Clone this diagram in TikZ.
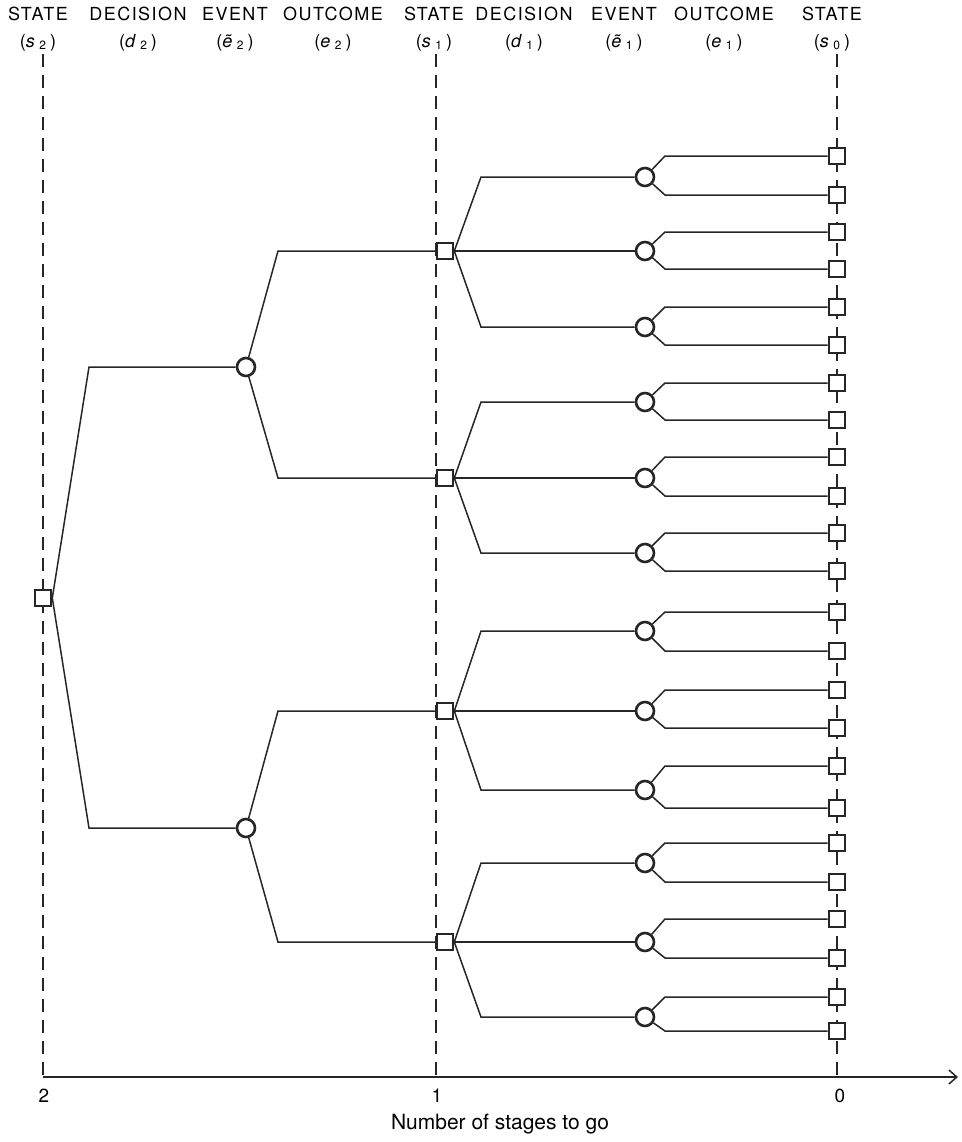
\documentclass[tikz,border=0pt]{standalone}
\usepackage{fontspec}
\setmainfont{TeX Gyre Heros}
\newfontfamily\hdfont[LetterSpace=8]{TeX Gyre Heros}
\usetikzlibrary{arrows.meta}
\begin{document}
\begin{tikzpicture}[x=0.5pt, y=-0.5pt, line width=0.75pt, draw=black!85,
    >={Straight Barb[length=4pt, width=7pt]},
    statebox/.style={draw, line width=1.3pt, fill=white, minimum size=8pt, inner sep=0pt},
    chancenode/.style={draw, circle, line width=1.3pt, fill=white, minimum size=9pt, inner sep=0pt},
    stagehead/.style={font=\hdfont\fontsize{9}{10}\selectfont},
    stageline/.style={dash pattern=on 6.5pt off 4pt}]
    \useasboundingbox (0,0) rectangle (962,1142);
    % column headings
    \foreach \lbl/\xx in {STATE/38, DECISION/138, EVENT/235, OUTCOME/333, STATE/434, DECISION/524, EVENT/624, OUTCOME/724, STATE/832}
        \node[stagehead] (h\xx) at (\xx,14) {\lbl};
    \foreach \sym/\sub/\xx in {s/2/38, d/2/138, \~e/2/235, e/2/333, s/1/434, d/1/524, \~e/1/624, e/1/724, s/0/832}
        \node[stagehead] (v\xx) at (\xx,43) {(\textit{\sym}\,\textsubscript{\sub}\,)};
    % stage lines and axis
    \coordinate (top2) at (43,54);  \coordinate (ax2) at (43,1077);
    \coordinate (top1) at (436,54); \coordinate (ax1) at (436,1077);
    \coordinate (top0) at (837,54); \coordinate (ax0) at (837,1077);
    \coordinate (axend) at (958,1077);
    \draw[stageline] (top2) -- (ax2);
    \draw[stageline] (top1) -- (ax1);
    \draw[stageline] (top0) -- (ax0);
    \draw[->] (ax2) -- (axend);
    \node[font=\fontsize{9.5}{10}\selectfont] (n2) at (44,1096) {2};
    \node[font=\fontsize{9.5}{10}\selectfont] (n1) at (437,1096) {1};
    \node[font=\fontsize{9.5}{10}\selectfont] (n0) at (840,1096) {0};
    \node[font=\fontsize{10.5}{12}\selectfont] (xlabel) at (500,1124) {Number of stages to go};
    % corner columns
    \coordinate (kd2) at (89,0);  \coordinate (ke2) at (278,0);
    \coordinate (kd1) at (481,0); \coordinate (ke1) at (665,0);
    % tree nodes
    \node[statebox] (root) at (43,598) {};
    \node[chancenode] (ea) at (246,367) {};
    \node[chancenode] (eb) at (246,828) {};
    \foreach \yy [count=\i] in {251,478,711,942}
        \node[statebox] (s\i) at (445,\yy) {};
    \foreach \yy [count=\i] in {177,251,327,402,478,553,631,711,790,863,942,1017}
        \node[chancenode] (c\i) at (645,\yy) {};
    \foreach \yy [count=\i] in {156,195,232,269,307,345,383,420,457,496,533,571,612,651,690,728,766,808,843,882,919,958,997,1031}
        \node[statebox] (t\i) at (837,\yy) {};
    % branches
    \draw (root.east) -- (kd2 |- ea) -- (ea);
    \draw (root.east) -- (kd2 |- eb) -- (eb);
    \draw (ea) -- (ke2 |- s1) -- (s1);
    \draw (ea) -- (ke2 |- s2) -- (s2);
    \draw (eb) -- (ke2 |- s3) -- (s3);
    \draw (eb) -- (ke2 |- s4) -- (s4);
    \foreach \i in {1,...,4} {
        \pgfmathtruncatemacro\ca{3*\i-2}
        \pgfmathtruncatemacro\cb{3*\i-1}
        \pgfmathtruncatemacro\cc{3*\i}
        \draw (s\i.east) -- (kd1 |- c\ca) -- (c\ca);
        \draw (s\i.east) -- (c\cb);
        \draw (s\i.east) -- (kd1 |- c\cc) -- (c\cc);
    }
    \foreach \i in {1,...,12} {
        \pgfmathtruncatemacro\la{2*\i-1}
        \pgfmathtruncatemacro\lb{2*\i}
        \draw (c\i) -- (ke1 |- t\la) -- (t\la);
        \draw (c\i) -- (ke1 |- t\lb) -- (t\lb);
    }
\end{tikzpicture}
\end{document}
